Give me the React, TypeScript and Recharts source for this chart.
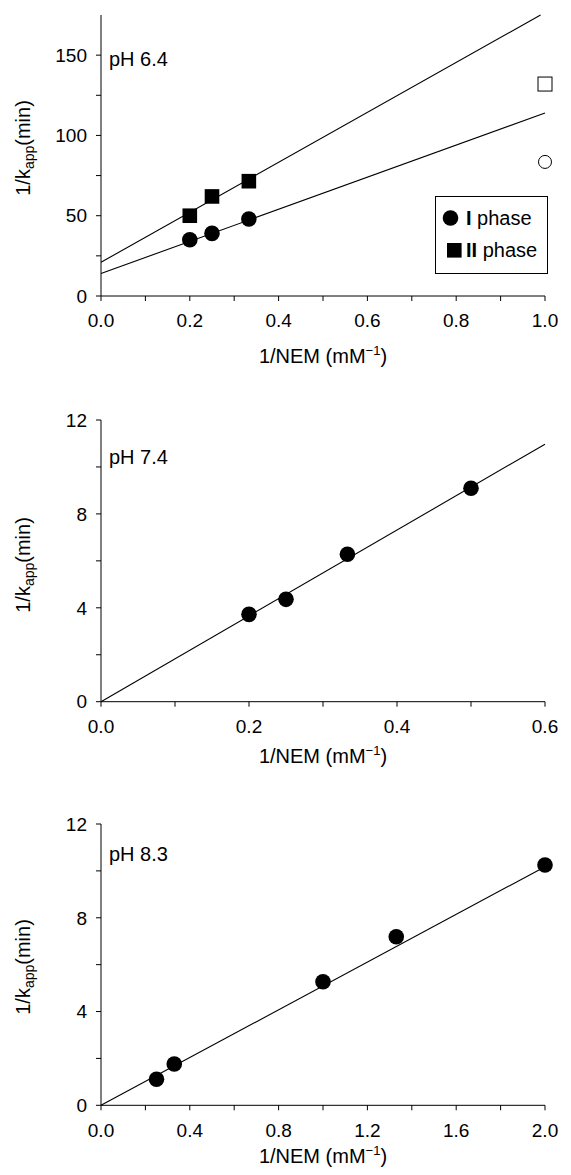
import React from 'react';
import { ScatterChart, Scatter, XAxis, YAxis, Legend, Label } from 'recharts';

const FONT = '"Liberation Sans", Arial, Helvetica, sans-serif';

// ---------- Panel A: pH 6.4 ----------
const a_xTicks = [0, 0.1, 0.2, 0.3, 0.4, 0.5, 0.6, 0.7, 0.8, 0.9, 1.0];
const a_xLabels = [0, 0.2, 0.4, 0.6, 0.8, 1.0];
const a_yTicks = [0, 25, 50, 75, 100, 125, 150];
const a_yLabels = [0, 50, 100, 150];
const a_phase1 = [
  { x: 0.2, y: 35 },
  { x: 0.25, y: 39 },
  { x: 0.333, y: 48 },
];
const a_phase2 = [
  { x: 0.2, y: 50 },
  { x: 0.25, y: 62 },
  { x: 0.333, y: 71.5 },
];
const a_openCircle = [{ x: 1.0, y: 83.5 }];
const a_openSquare = [{ x: 1.0, y: 132 }];
const a_fit1 = [
  { x: 0, y: 14 },
  { x: 1.0, y: 114 },
];
const a_fit2 = [
  { x: 0, y: 21 },
  { x: 0.99, y: 175 },
];

// ---------- Panel B: pH 7.4 ----------
const b_xTicks = [0, 0.1, 0.2, 0.3, 0.4, 0.5, 0.6];
const b_xLabels = [0, 0.2, 0.4, 0.6];
const b_yTicks = [0, 2, 4, 6, 8, 10, 12];
const b_yLabels = [0, 4, 8, 12];
const b_points = [
  { x: 0.2, y: 3.72 },
  { x: 0.25, y: 4.36 },
  { x: 0.333, y: 6.28 },
  { x: 0.5, y: 9.09 },
];
const b_fit = [
  { x: 0, y: 0 },
  { x: 0.6, y: 10.97 },
];

// ---------- Panel C: pH 8.3 ----------
const c_xTicks = [0, 0.2, 0.4, 0.6, 0.8, 1.0, 1.2, 1.4, 1.6, 1.8, 2.0];
const c_xLabels = [0, 0.4, 0.8, 1.2, 1.6, 2.0];
const c_yTicks = [0, 2, 4, 6, 8, 10, 12];
const c_yLabels = [0, 4, 8, 12];
const c_points = [
  { x: 0.25, y: 1.11 },
  { x: 0.33, y: 1.76 },
  { x: 1.0, y: 5.27 },
  { x: 1.33, y: 7.19 },
  { x: 2.0, y: 10.25 },
];
const c_fit = [
  { x: 0, y: 0 },
  { x: 2.0, y: 10.18 },
];

const near = (v: number, arr: number[]) => arr.some((a) => Math.abs(a - v) < 1e-6);

const FilledCircle = (p: any) => <circle cx={p.cx} cy={p.cy} r={7.8} fill="#000" />;
const FilledSquare = (p: any) => <rect x={p.cx - 7.3} y={p.cy - 7.3} width={14.6} height={14.6} fill="#000" />;
const OpenCircle = (p: any) => <circle cx={p.cx} cy={p.cy} r={6.5} fill="#fff" stroke="#000" strokeWidth={1} />;
const OpenSquare = (p: any) => (
  <rect x={p.cx - 7} y={p.cy - 7} width={14} height={14} fill="#fff" stroke="#000" strokeWidth={1} />
);
const NoShape = () => <g />;

const lineStyle = { stroke: '#000', strokeWidth: 1.1 };

const renderLegend = () => (
  <svg width={113} height={79} style={{ display: 'block', fontFamily: FONT }}>
    <rect x={0.5} y={0.5} width={112} height={77} fill="#fff" stroke="#000" strokeWidth={1} />
    <circle cx={15.5} cy={22} r={7.8} fill="#000" />
    <text x={31} y={29} fontSize={20} fill="#000">
      <tspan fontWeight="bold">I</tspan> phase
    </text>
    <rect x={12} y={47} width={14.6} height={14.6} fill="#000" />
    <text x={31} y={61} fontSize={20} fill="#000">
      <tspan fontWeight="bold">II</tspan> phase
    </text>
  </svg>
);

type PanelProps = {
  height: number;
  marginTop: number;
  marginBottom: number;
  xDomain: [number, number];
  xTicks: number[];
  xLabels: number[];
  yDomain: [number, number];
  yTicks: number[];
  yLabels: number[];
  ph: string;
  phDy: number;
  yLabelCenter: number;
  xLabelDy: number;
  children: React.ReactNode;
};

const Panel = (p: PanelProps) => {
  const xLab = (props: any) => {
    const vb = props.viewBox || {};
    const cx = vb.x + vb.width / 2;
    return (
      <text x={cx} y={vb.y + p.xLabelDy} textAnchor="middle" fontSize={20} fontFamily={FONT} fill="#000">
        1/NEM (mM
        <tspan fontSize={13} dy={-8}>
          −1
        </tspan>
        <tspan dy={8}>)</tspan>
      </text>
    );
  };
  const yLab = () => (
    <text
      x={0}
      y={0}
      transform={`translate(30, ${p.yLabelCenter}) rotate(-90)`}
      textAnchor="middle"
      fontSize={20}
      fontFamily={FONT}
      fill="#000"
    >
      1/k
      <tspan fontSize={14} dy={4}>
        app
      </tspan>
      <tspan dy={-4}>(min)</tspan>
    </text>
  );
  const phLab = (props: any) => {
    const vb = props.viewBox || {};
    return (
      <text x={vb.x + vb.width + 8} y={vb.y + p.phDy} fontSize={20} fontFamily={FONT} fill="#000">
        {p.ph}
      </text>
    );
  };
  return (
    <ScatterChart
      width={571}
      height={p.height}
      margin={{ top: p.marginTop, right: 26, bottom: p.marginBottom, left: 41 }}
      style={{ fontFamily: FONT }}
    >
      <XAxis
        type="number"
        dataKey="x"
        domain={p.xDomain}
        ticks={p.xTicks}
        interval={0}
        height={30}
        tickSize={5}
        tickMargin={13}
        axisLine={{ stroke: '#000', strokeWidth: 1 }}
        tickLine={{ stroke: '#000', strokeWidth: 1 }}
        tick={{ fill: '#000', fontSize: 19, fontFamily: FONT }}
        tickFormatter={(v: number) => (near(v, p.xLabels) ? v.toFixed(1) : '')}
      >
        <Label content={xLab} />
      </XAxis>
      <YAxis
        type="number"
        dataKey="y"
        domain={p.yDomain}
        ticks={p.yTicks}
        interval={0}
        width={60}
        tickSize={5}
        tickMargin={9}
        axisLine={{ stroke: '#000', strokeWidth: 1 }}
        tickLine={{ stroke: '#000', strokeWidth: 1 }}
        tick={{ fill: '#000', fontSize: 19, fontFamily: FONT }}
        tickFormatter={(v: number) => (near(v, p.yLabels) ? String(v) : '')}
      >
        <Label content={yLab} />
        <Label content={phLab} />
      </YAxis>
      {p.children}
    </ScatterChart>
  );
};

export default function App() {
  return (
    <div style={{ position: 'absolute', left: 0, top: 0, width: 571, height: 1175, background: '#fff' }}>
      <div style={{ position: 'absolute', left: 0, top: 0 }}>
        <Panel
          height={380}
          marginTop={15}
          marginBottom={54}
          xDomain={[0, 1]}
          xTicks={a_xTicks}
          xLabels={a_xLabels}
          yDomain={[0, 175]}
          yTicks={a_yTicks}
          yLabels={a_yLabels}
          ph="pH 6.4"
          phDy={51}
          yLabelCenter={148}
          xLabelDy={67}
        >
          <Scatter data={a_fit1} line={lineStyle} shape={NoShape} isAnimationActive={false} legendType="none" />
          <Scatter data={a_fit2} line={lineStyle} shape={NoShape} isAnimationActive={false} legendType="none" />
          <Scatter data={a_phase1} shape={FilledCircle} isAnimationActive={false} name="I phase" />
          <Scatter data={a_phase2} shape={FilledSquare} isAnimationActive={false} name="II phase" />
          <Scatter data={a_openCircle} shape={OpenCircle} isAnimationActive={false} legendType="none" />
          <Scatter data={a_openSquare} shape={OpenSquare} isAnimationActive={false} legendType="none" />
          <Legend
            layout="horizontal"
            verticalAlign="middle"
            align="center"
            content={renderLegend}
            wrapperStyle={{ position: 'absolute', left: 435, top: 196, width: 113, height: 79 }}
          />
        </Panel>
      </div>
      <div style={{ position: 'absolute', left: 0, top: 400 }}>
        <Panel
          height={390}
          marginTop={20}
          marginBottom={58.3}
          xDomain={[0, 0.6]}
          xTicks={b_xTicks}
          xLabels={b_xLabels}
          yDomain={[0, 12]}
          yTicks={b_yTicks}
          yLabels={b_yLabels}
          ph="pH 7.4"
          phDy={44}
          yLabelCenter={165}
          xLabelDy={61}
        >
          <Scatter data={b_fit} line={lineStyle} shape={NoShape} isAnimationActive={false} />
          <Scatter data={b_points} shape={FilledCircle} isAnimationActive={false} />
        </Panel>
      </div>
      <div style={{ position: 'absolute', left: 0, top: 800 }}>
        <Panel
          height={375}
          marginTop={24}
          marginBottom={39.7}
          xDomain={[0, 2]}
          xTicks={c_xTicks}
          xLabels={c_xLabels}
          yDomain={[0, 12]}
          yTicks={c_yTicks}
          yLabels={c_yLabels}
          ph="pH 8.3"
          phDy={37}
          yLabelCenter={167}
          xLabelDy={58}
        >
          <Scatter data={c_fit} line={lineStyle} shape={NoShape} isAnimationActive={false} />
          <Scatter data={c_points} shape={FilledCircle} isAnimationActive={false} />
        </Panel>
      </div>
    </div>
  );
}
